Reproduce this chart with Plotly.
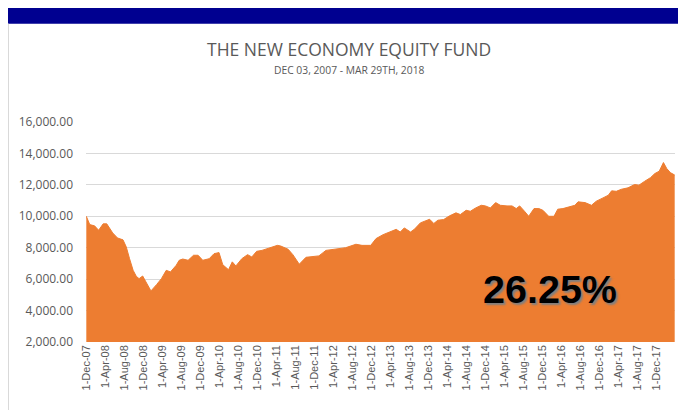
import plotly.graph_objects as go

# Fund value series
dates = [
    "2007-12-03", "2007-12-25", "2008-01-25", "2008-02-20", "2008-03-20", "2008-04-12",
    "2008-05-20", "2008-06-20", "2008-07-25", "2008-08-15", "2008-09-05", "2008-09-28",
    "2008-10-18", "2008-11-05", "2008-11-28", "2008-12-20", "2009-01-20", "2009-02-25",
    "2009-03-28", "2009-04-28", "2009-05-25", "2009-07-01", "2009-07-20", "2009-08-12",
    "2009-09-15", "2009-10-20", "2009-11-18", "2009-12-18", "2010-01-28", "2010-02-28",
    "2010-04-01", "2010-04-25", "2010-06-01", "2010-06-25", "2010-07-18", "2010-08-25",
    "2010-10-01", "2010-10-28", "2010-11-28", "2011-01-01", "2011-02-01", "2011-03-05",
    "2011-04-10", "2011-05-01", "2011-06-18", "2011-07-18", "2011-08-28", "2011-10-10",
    "2012-01-01", "2012-02-15", "2012-04-18", "2012-06-20", "2012-08-25", "2012-10-03",
    "2012-11-28", "2013-01-01", "2013-02-15", "2013-03-28", "2013-05-10", "2013-06-05",
    "2013-07-01", "2013-08-10", "2013-09-03", "2013-10-12", "2013-11-18", "2013-12-10",
    "2014-01-06", "2014-02-01", "2014-03-10", "2014-04-15", "2014-05-28", "2014-06-25",
    "2014-08-01", "2014-08-28", "2014-10-01", "2014-11-06", "2014-12-03", "2015-01-03",
    "2015-02-06", "2015-03-08", "2015-04-20", "2015-05-22", "2015-06-18", "2015-07-10",
    "2015-08-10", "2015-09-06", "2015-10-10", "2015-11-10", "2015-12-06", "2016-01-12",
    "2016-02-15", "2016-03-10", "2016-04-12", "2016-05-25", "2016-06-28", "2016-07-18",
    "2016-09-01", "2016-10-12", "2016-11-12", "2016-12-25", "2017-01-28", "2017-02-18",
    "2017-03-20", "2017-04-22", "2017-06-03", "2017-07-15", "2017-08-12", "2017-09-18",
    "2017-10-25", "2017-11-22", "2017-12-20", "2018-01-16", "2018-02-06", "2018-03-01",
    "2018-03-29",
]
values = [
    10000, 9470, 9390, 9110, 9520, 9520,
    8940, 8620, 8500, 8050, 7300, 6560,
    6180, 6030, 6200, 5780, 5250, 5650,
    6030, 6560, 6460, 6880, 7200, 7280,
    7200, 7520, 7520, 7200, 7300, 7620,
    7690, 6920, 6600, 7100, 6840, 7300,
    7560, 7410, 7770, 7830, 7940, 8010,
    8150, 8110, 7900, 7560, 6950, 7390,
    7480, 7830, 7900, 8000, 8220, 8150,
    8150, 8580, 8830, 9000, 9170, 9000,
    9260, 9000, 9170, 9580, 9750, 9810,
    9540, 9750, 9790, 10020, 10220, 10110,
    10380, 10320, 10530, 10700, 10660, 10530,
    10870, 10700, 10660, 10660, 10490, 10660,
    10320, 10000, 10490, 10490, 10380, 10000,
    10000, 10450, 10490, 10600, 10700, 10920,
    10870, 10700, 10960, 11170, 11340, 11620,
    11590, 11720, 11810, 12020, 11980, 12230,
    12460, 12720, 12870, 13420, 13040, 12780,
    12625,
]

tick_dates = [
    "2007-12-01", "2008-04-01", "2008-08-01", "2008-12-01", "2009-04-01", "2009-08-01",
    "2009-12-01", "2010-04-01", "2010-08-01", "2010-12-01", "2011-04-01", "2011-08-01",
    "2011-12-01", "2012-04-01", "2012-08-01", "2012-12-01", "2013-04-01", "2013-08-01",
    "2013-12-01", "2014-04-01", "2014-08-01", "2014-12-01", "2015-04-01", "2015-08-01",
    "2015-12-01", "2016-04-01", "2016-08-01", "2016-12-01", "2017-04-01", "2017-08-01",
    "2017-12-01",
]
tick_labels = [
    "1-Dec-07", "1-Apr-08", "1-Aug-08", "1-Dec-08", "1-Apr-09", "1-Aug-09",
    "1-Dec-09", "1-Apr-10", "1-Aug-10", "1-Dec-10", "1-Apr-11", "1-Aug-11",
    "1-Dec-11", "1-Apr-12", "1-Aug-12", "1-Dec-12", "1-Apr-13", "1-Aug-13",
    "1-Dec-13", "1-Apr-14", "1-Aug-14", "1-Dec-14", "1-Apr-15", "1-Aug-15",
    "1-Dec-15", "1-Apr-16", "1-Aug-16", "1-Dec-16", "1-Apr-17", "1-Aug-17",
    "1-Dec-17",
]
y_ticks = [2000, 4000, 6000, 8000, 10000, 12000, 14000, 16000]

title_text = "THE NEW ECONOMY EQUITY FUND"
subtitle_text = "DEC 03, 2007 - MAR 29TH, 2018"
return_text = "26.25%"

# page body has an 8px margin; figure coordinates below are screen px - 8
OFF = 8
W, H = 686 - OFF, 410 - OFF
ml = 86 - OFF
mt = 122.3 - OFF
plot_bottom = 342.3 - OFF
plot_right = 675 - OFF
mr = W - plot_right
mb = H - plot_bottom
pw, ph = W - ml - mr, H - mt - mb

def px(x):
    return (x - OFF - ml) / pw

def py(y):
    return (plot_bottom - (y - OFF)) / ph

fig = go.Figure()
fig.add_trace(go.Scatter(
    x=dates, y=values, mode="lines", fill="tozeroy",
    line=dict(color="#ED7D31", width=1), fillcolor="#ED7D31",
    hoverinfo="x+y", showlegend=False,
))

fig.update_layout(
    width=W, height=H,
    margin=dict(l=ml, r=mr, t=mt, b=mb, pad=0),
    paper_bgcolor="white", plot_bgcolor="white",
    xaxis=dict(
        range=["2007-12-01", "2018-03-31"],
        tickvals=tick_dates, ticktext=tick_labels, tickangle=-90,
        showgrid=False, zeroline=False, showline=False, ticks="",
        tickfont=dict(family="Liberation Sans, Arial", size=11, color="#595959"),
    ),
    yaxis=dict(
        range=[2000, 16000], tickvals=y_ticks, tickformat=",.2f",
        showgrid=True, gridcolor="#D9D9D9", gridwidth=1,
        zeroline=False, showline=False, ticks="",
        tickfont=dict(family="Open Sans, Liberation Sans", size=12, color="#595959"),
        ticklabelstandoff=12,
    ),
    font=dict(family="Open Sans"),
    shapes=[
        dict(type="rect", xref="paper", yref="paper",
             x0=px(6), x1=px(700), y0=py(24), y1=py(5.5),
             fillcolor="#000090", line=dict(width=0), layer="above"),
        dict(type="line", xref="paper", yref="paper",
             x0=px(8.5), x1=px(8.5), y0=py(24), y1=py(420),
             line=dict(color="#D9D9D9", width=1)),
    ],
    annotations=[
        dict(text=title_text, xref="paper", yref="paper", x=px(349), y=py(49),
             showarrow=False, xanchor="center", yanchor="middle",
             font=dict(family="Open Sans", size=17.5, color="#595959")),
        dict(text=subtitle_text, xref="paper", yref="paper", x=px(349), y=py(70),
             showarrow=False, xanchor="center", yanchor="middle",
             font=dict(family="Open Sans", size=10.3, color="#595959")),
        dict(text="<b>" + return_text + "</b>", xref="paper", yref="paper",
             x=px(550), y=py(289), showarrow=False, xanchor="center", yanchor="middle",
             font=dict(family="Liberation Sans, Arial", size=39.5, color="black",
                       shadow="2px 2px 2px #7f7f7f")),
    ],
)

fig.write_html("out.html")
